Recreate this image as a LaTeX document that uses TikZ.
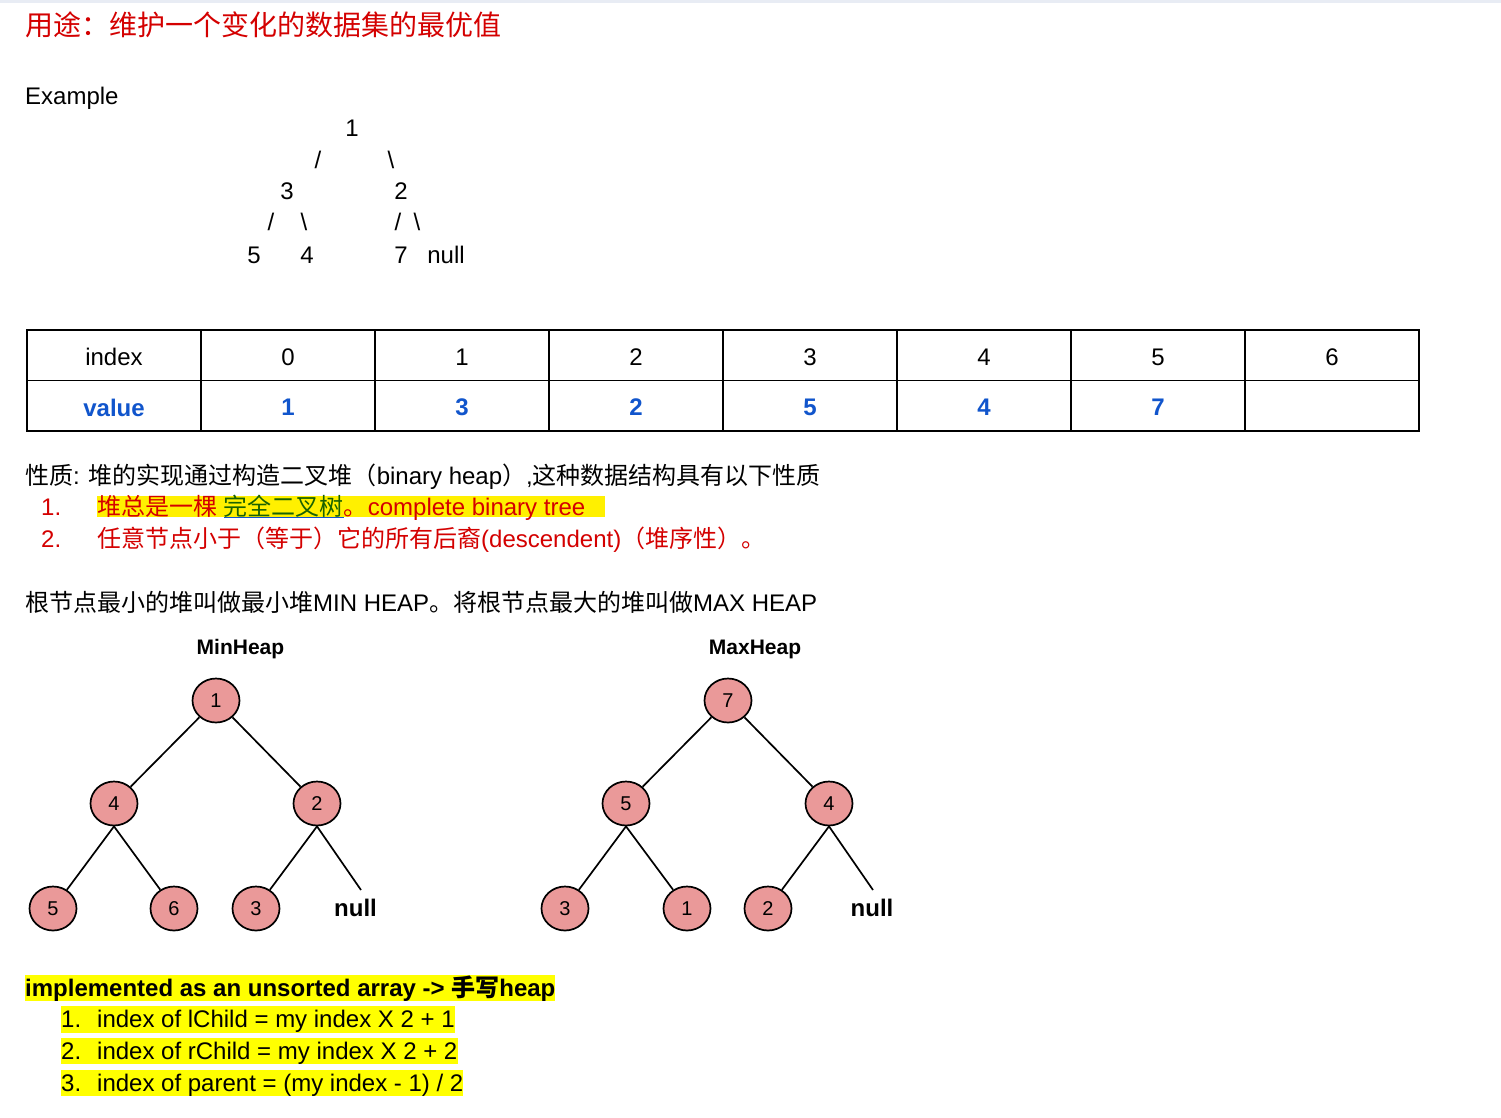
\documentclass[tikz,border=0pt]{standalone}
\usepackage{fontspec}
\setmainfont{Liberation Sans}
\newfontfamily\zh{Noto Sans CJK SC}
\usetikzlibrary{shapes.geometric}
\definecolor{tred}{HTML}{D40000}
\definecolor{tblue}{HTML}{1155CC}
\definecolor{tgreen}{HTML}{1A6200}
\definecolor{hl}{HTML}{FFFF00}
\definecolor{hlmark}{HTML}{FFF000}
\definecolor{nodefill}{HTML}{EA9999}
\definecolor{topbar}{HTML}{E8ECF4}
\newcommand{\cellraise}[1]{\raisebox{-1.8pt}[\height][\depth]{#1}}
\begin{document}
\begin{tikzpicture}[x=1pt,y=-1pt,
  txt/.style={anchor=base west, inner sep=0pt, font=\fontsize{24}{28}\selectfont},
  ctxt/.style={anchor=base, inner sep=0pt, font=\fontsize{24}{28}\selectfont},
  cell/.style={draw=black, line width=1.6pt, minimum width=174pt, minimum height=50.5pt, inner sep=0pt, font=\fontsize{24}{28}\selectfont},
  valcell/.style={cell, text=tblue, font=\fontsize{24}{28}\selectfont\bfseries},
  hnode/.style={ellipse, draw=black, line width=1.7pt, fill=nodefill, minimum width=47pt, minimum height=44pt, inner sep=0pt, font=\fontsize{20}{24}\selectfont},
  nulltxt/.style={inner sep=0pt, font=\fontsize{24}{28}\selectfont\bfseries},
  edge/.style={line width=1.7pt, black},
  heaptitle/.style={anchor=base, inner sep=0pt, font=\fontsize{21}{25}\selectfont\bfseries}
]
\useasboundingbox (0,0) rectangle (1501,1117);
\fill[white] (0,0) rectangle (1501,1117);
\fill[topbar] (0,0) rectangle (1501,3);

% title
\node[txt, font=\fontsize{28}{32}\selectfont, text=tred] (title) at (25,35) {\zh 用途：维护一个变化的数据集的最优值};
\node[txt] (example) at (25,104) {Example};

% ascii tree
\node[ctxt] (a1) at (352,136.5) {1};
\node[ctxt] (s1) at (318,168) {/};
\node[ctxt] (s2) at (391,168) {\textbackslash};
\node[ctxt] (a3) at (287,199.5) {3};
\node[ctxt] (a2) at (401,199.5) {2};
\node[ctxt] (s3) at (271,230) {/};
\node[ctxt] (s4) at (304,230) {\textbackslash};
\node[ctxt] (s5) at (398,230) {/};
\node[ctxt] (s6) at (417,230) {\textbackslash};
\node[ctxt] (a5) at (254,263.5) {5};
\node[ctxt] (a4) at (307,263.5) {4};
\node[ctxt] (a7) at (401,263.5) {7};
\node[ctxt] (anull) at (446,263.5) {null};

% table
\foreach \i/\lab in {0/index,1/0,2/1,3/2,4/3,5/4,6/5,7/6} {
  \node[cell] (h\i) at ({114+174*\i},355.25) {\cellraise{\lab}};
}
\foreach \i/\lab in {0/value,1/1,2/3,3/2,4/5,5/4,6/7,7/{}} {
  \node[valcell] (v\i) at ({114+174*\i},405.75) {\cellraise{\lab}};
}

% properties
\node[txt] (prop) at (25,484) {{\zh 性质}: {\zh 堆的实现通过构造二叉堆（}binary heap{\zh ）},{\zh 这种数据结构具有以下性质}};
\fill[hlmark] (97,496) rectangle (605,517);
\node[txt, text=tred] (n1) at (41,515) {1.};
\node[txt, text=tred] (p1) at (97,515) {{\zh 堆总是一棵} {\color{tgreen}\zh 完全二叉树}{\zh 。}complete binary tree};
\draw[tblue, line width=1.3pt] (224,517.5) -- (344,517.5);
\node[txt, text=tred] (n2) at (41,547) {2.};
\node[txt, text=tred] (p2) at (97,547) {{\zh 任意节点小于（等于）它的所有后裔}(descendent){\zh （堆序性）。}};

\node[txt] (minmax) at (25,611) {{\zh 根节点最小的堆叫做最小堆}MIN HEAP{\zh 。将根节点最大的堆叫做}MAX HEAP};

% MinHeap
\node[heaptitle] (mintitle) at (240.5,654.5) {MinHeap};
\node[hnode] (m1) at (216,700.5) {1};
\node[hnode] (m4) at (114,803.5) {4};
\node[hnode] (m2) at (317,803.5) {2};
\node[hnode] (m5) at (53,908.5) {5};
\node[hnode] (m6) at (174,908.5) {6};
\node[hnode] (m3) at (256,908.5) {3};
\node[nulltxt] (mnull) at (355.5,908) {null};
\coordinate (mnullend) at (361,890);
\draw[edge] (m1) -- (m4);
\draw[edge] (m1) -- (m2);
\draw[edge] (m4.south) -- (m5);
\draw[edge] (m4.south) -- (m6);
\draw[edge] (m2.south) -- (m3);
\draw[edge] (m2.south) -- (mnullend);

% MaxHeap
\node[heaptitle] (maxtitle) at (755,654.5) {MaxHeap};
\node[hnode] (x7) at (728,700.5) {7};
\node[hnode] (x5) at (626,803.5) {5};
\node[hnode] (x4) at (829,803.5) {4};
\node[hnode] (x3) at (565,908.5) {3};
\node[hnode] (x1) at (687,908.5) {1};
\node[hnode] (x2) at (768,908.5) {2};
\node[nulltxt] (xnull) at (872,908) {null};
\coordinate (xnullend) at (873,890);
\draw[edge] (x7) -- (x5);
\draw[edge] (x7) -- (x4);
\draw[edge] (x5.south) -- (x3);
\draw[edge] (x5.south) -- (x1);
\draw[edge] (x4.south) -- (x2);
\draw[edge] (x4.south) -- (xnullend);

% implementation notes
\fill[hl] (25,975) rectangle (555,1001);
\fill[hl] (61,1006) rectangle (455,1033);
\fill[hl] (61,1038) rectangle (458,1064);
\fill[hl] (61,1070) rectangle (463,1096);
\node[txt, font=\fontsize{24}{28}\selectfont\bfseries] (impl) at (25,996.5) {implemented as an unsorted array -> {\zh\bfseries 手写}heap};
\node[txt] (i1n) at (61,1027.5) {1.};
\node[txt] (i1) at (97,1027.5) {index of lChild = my index X 2 + 1};
\node[txt] (i2n) at (61,1059.5) {2.};
\node[txt] (i2) at (97,1059.5) {index of rChild = my index X 2 + 2};
\node[txt] (i3n) at (61,1091.5) {3.};
\node[txt] (i3) at (97,1091.5) {index of parent = (my index - 1) / 2};
\end{tikzpicture}
\end{document}
